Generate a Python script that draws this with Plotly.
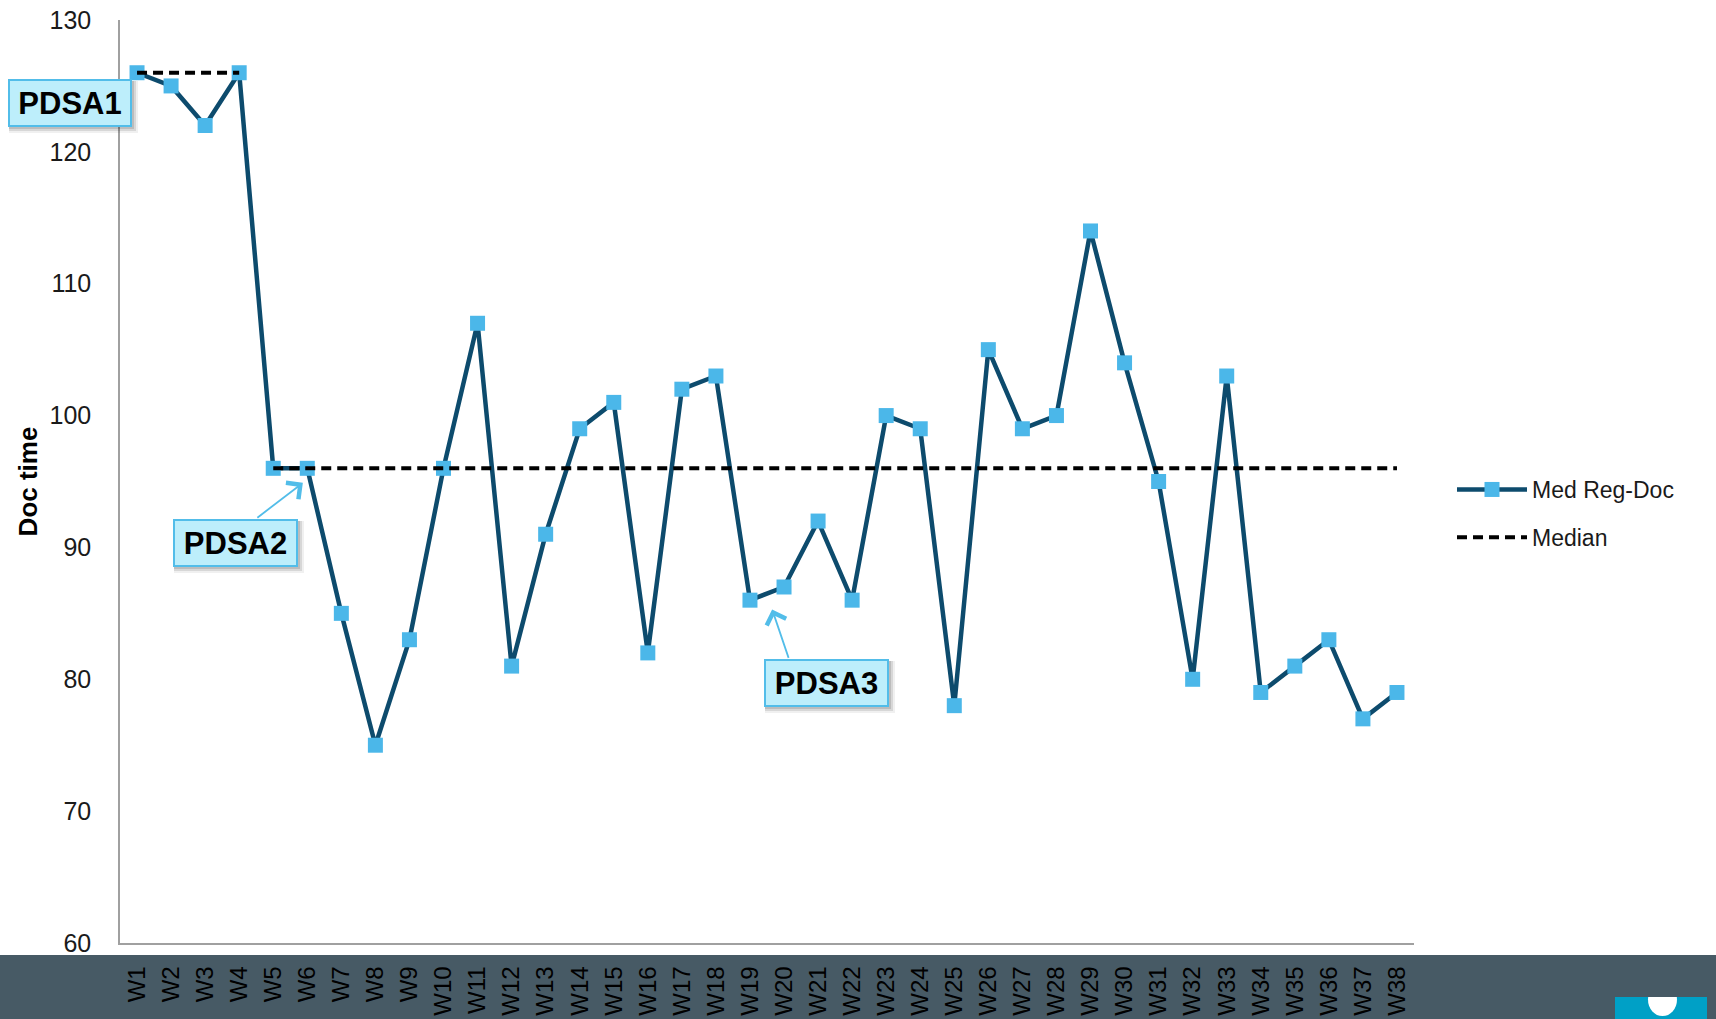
import plotly.graph_objects as go

# Weekly median registration-to-doctor time
weeks = [f"W{i}" for i in range(1, 39)]
doc_time = [126, 125, 122, 126, 96, 96, 85, 75, 83, 96,
            107, 81, 91, 99, 101, 82, 102, 103, 86, 87,
            92, 86, 100, 99, 78, 105, 99, 100, 114, 104,
            95, 80, 103, 79, 81, 83, 77, 79]

# Median for each phase of the run chart
phase1_weeks = ["W1", "W2", "W3", "W4"]
phase1_median = [126, 126, 126, 126]
phase2_weeks = weeks[4:]
phase2_median = [96] * len(phase2_weeks)

y_ticks = [60, 70, 80, 90, 100, 110, 120, 130]

W, H = 1716, 1019
L, R, T, B = 120, 302, 20, 76
PW, PH = W - L - R, H - T - B


def px(x):
    return (x - L) / PW


def py(y):
    return (H - B - y) / PH


NAVY = "#0d4b6d"
SKY = "#4bb7e9"
BAND = "#475a65"
BOX_FILL = "#bdeefb"
BOX_EDGE = "#52bde9"
FONT = "Liberation Sans, Arial, sans-serif"

fig = go.Figure()

fig.add_trace(go.Scatter(
    x=weeks, y=doc_time, name="Med Reg-Doc", mode="lines+markers",
    line=dict(color=NAVY, width=4.5),
    marker=dict(symbol="square", size=15, color=SKY, line=dict(width=0)),
    legendgroup="a",
))
fig.add_trace(go.Scatter(
    x=phase1_weeks, y=phase1_median, name="Median", mode="lines",
    line=dict(color="black", width=4, dash="10px,6px"),
    legendgroup="b",
))
fig.add_trace(go.Scatter(
    x=phase2_weeks, y=phase2_median, name="Median", mode="lines",
    line=dict(color="black", width=4, dash="10px,6px"),
    legendgroup="b", showlegend=False,
))

shapes = []
# dark footer band
shapes.append(dict(type="rect", xref="paper", yref="paper", layer="below",
                   x0=px(0), x1=px(W), y0=py(955), y1=py(H + 2),
                   fillcolor=BAND, line=dict(width=0)))
# footer logo
shapes.append(dict(type="rect", xref="paper", yref="paper", layer="below",
                   x0=px(1615), x1=px(1707), y0=py(997), y1=py(H + 2),
                   fillcolor="#00a0c6", line=dict(width=0)))
shapes.append(dict(type="circle", xref="paper", yref="paper", layer="below",
                   x0=px(1648), x1=px(1677), y0=py(983), y1=py(1016),
                   fillcolor="white", line=dict(width=0)))
shapes.append(dict(type="rect", xref="paper", yref="paper", layer="below",
                   x0=px(1640), x1=px(1690), y0=py(975), y1=py(997),
                   fillcolor=BAND, line=dict(width=0)))

# callout boxes: (label, left, top, right, bottom) in pixels
boxes = [("PDSA1", 8, 79, 132, 127),
         ("PDSA2", 173, 519, 298, 567),
         ("PDSA3", 764, 659, 889, 707)]

annotations = []
for label, x0, y0, x1, y1 in boxes:
    for off, alpha in [(6, 0.06), (4, 0.10), (2, 0.12)]:
        shapes.append(dict(type="rect", xref="paper", yref="paper", layer="above",
                           x0=px(x0 + 1), x1=px(x1 + off), y0=py(y0 + 2), y1=py(y1 + off),
                           fillcolor=f"rgba(0,0,0,{alpha})", line=dict(width=0)))
    annotations.append(dict(
        xref="paper", yref="paper", x=px((x0 + x1) / 2), y=py((y0 + y1) / 2),
        xanchor="center", yanchor="middle", showarrow=False,
        text=f"<b>{label}</b>", font=dict(family=FONT, size=31, color="black"),
        bgcolor=BOX_FILL, bordercolor=BOX_EDGE, borderwidth=2, borderpad=4,
        width=x1 - x0 - 12, height=y1 - y0 - 12,
    ))

# arrows from the callouts to the weeks they mark
arrows = [(4.87, 94.9, 256 - 303, 519 - 483),
          (18.65, 85.3, 789 - 772, 659 - 609)]
for ax_x, ax_y, dx, dy in arrows:
    annotations.append(dict(
        x=ax_x, y=ax_y, xref="x", yref="y", text="", showarrow=True,
        ax=dx, ay=dy, axref="pixel", ayref="pixel",
        arrowhead=4, arrowsize=2.2, arrowwidth=1.8, arrowcolor=BOX_EDGE,
    ))

fig.update_layout(
    width=W, height=H,
    margin=dict(l=L, r=R, t=T, b=B, autoexpand=False),
    paper_bgcolor="white", plot_bgcolor="white",
    font=dict(family=FONT, color="#1a1a1a"),
    showlegend=True,
    legend=dict(
        x=px(1452), y=py(468), xanchor="left", yanchor="top",
        font=dict(family=FONT, size=23, color="#1a1a1a"),
        itemwidth=70, tracegroupgap=15, bgcolor="rgba(0,0,0,0)",
        traceorder="grouped",
    ),
    shapes=shapes,
    annotations=annotations,
)

fig.update_xaxes(
    type="category", categoryorder="array", categoryarray=weeks,
    tickangle=-90, tickfont=dict(family=FONT, size=24, color="black"),
    showline=True, linecolor="#a0a0a0", linewidth=1.5,
    showgrid=False, zeroline=False, ticks="", ticklabelstandoff=12,
    automargin=False, range=[-0.5, len(weeks) - 0.5],
)
fig.update_yaxes(
    range=[60, 130], tickvals=y_ticks,
    tickfont=dict(family=FONT, size=25, color="#1a1a1a"),
    showline=True, linecolor="#a0a0a0", linewidth=1.5,
    showgrid=False, zeroline=False, ticks="", ticklabelstandoff=22,
    title=dict(text="<b>Doc time</b>", font=dict(family=FONT, size=26, color="black"),
               standoff=4),
    automargin=False,
)

fig.write_html("out.html")
